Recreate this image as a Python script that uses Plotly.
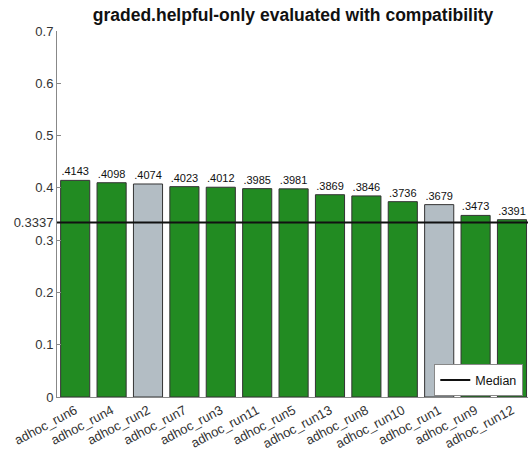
import plotly.graph_objects as go

runs = ["adhoc_run6", "adhoc_run4", "adhoc_run2", "adhoc_run7", "adhoc_run3",
        "adhoc_run11", "adhoc_run5", "adhoc_run13", "adhoc_run8", "adhoc_run10",
        "adhoc_run1", "adhoc_run9", "adhoc_run12"]
scores = [0.4143, 0.4098, 0.4074, 0.4023, 0.4012, 0.3985, 0.3981, 0.3869,
          0.3846, 0.3736, 0.3679, 0.3473, 0.3391]
baseline_runs = ["adhoc_run2", "adhoc_run1"]
median = 0.3337
ytick_vals = [0, 0.1, 0.2, 0.3, median, 0.4, 0.5, 0.6, 0.7]
ytick_text = ["0", "0.1", "0.2", "0.3", "0.3337", "0.4", "0.5", "0.6", "0.7"]

GREEN = "#228B22"
GRAY = "#B3BDC4"
colors = [GRAY if r in baseline_runs else GREEN for r in runs]
labels = [f"{v:.4f}".lstrip("0") for v in scores]

fig = go.Figure()
fig.add_trace(go.Bar(
    x=runs, y=scores, marker=dict(color=colors, line=dict(color="#333333", width=1)),
    text=labels, textposition="outside", textfont=dict(size=11, color="#111111"),
    cliponaxis=False, showlegend=False, hoverinfo="skip",
))
fig.add_shape(type="line", xref="x domain", yref="y", x0=0, x1=1, y0=median, y1=median,
              line=dict(color="#111111", width=2), showlegend=True, name="Median")

fig.update_layout(
    width=528, height=458,
    margin=dict(l=57, r=0, t=31, b=61),
    paper_bgcolor="white", plot_bgcolor="white",
    font=dict(family="Liberation Sans, Arial, sans-serif", size=13, color="#333333"),
    title=dict(text="<b>graded.helpful-only evaluated with compatibility</b>",
               x=0.555, xanchor="center", y=0.967, yanchor="middle",
               font=dict(size=17.5, color="#111111")),
    bargap=0.2,
    legend=dict(x=0.99, xanchor="right", y=0.002, yanchor="bottom",
                bgcolor="white", bordercolor="#888888", borderwidth=1,
                font=dict(size=12.5, color="#111111")),
    showlegend=True,
)
fig.update_xaxes(range=[-0.5, 12.44], showline=True, linecolor="#888888", linewidth=1,
                 ticks="", tickangle=-28, tickfont=dict(size=13), showgrid=False,
                 automargin=False)
fig.update_yaxes(range=[0, 0.7], tickvals=ytick_vals, ticktext=ytick_text,
                 showline=True, linecolor="#888888", linewidth=1, ticks="inside",
                 ticklen=4, tickcolor="#888888", showgrid=False, zeroline=False,
                 tickfont=dict(size=13), automargin=False)

fig.write_html("out.html", config={"displayModeBar": False},
               post_script="document.body.style.margin='0';")
